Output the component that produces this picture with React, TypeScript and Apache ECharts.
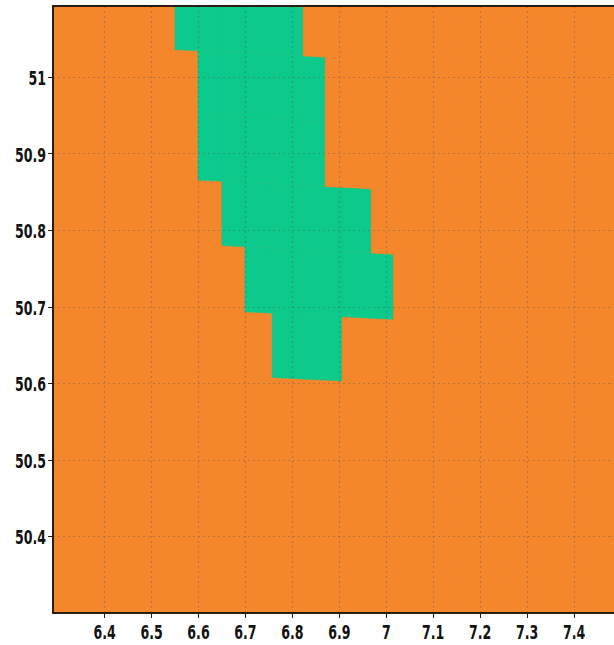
import React, { useEffect, useRef } from "react";
import * as echarts from "echarts";

// Axis extents and tick labels (longitude / latitude)
const xRange = [6.29, 7.5];
const yRange = [50.3, 51.093];
const xTicks = [6.4, 6.5, 6.6, 6.7, 6.8, 6.9, 7.0, 7.1, 7.2, 7.3, 7.4];
const yTicks = [50.4, 50.5, 50.6, 50.7, 50.8, 50.9, 51.0];

// Raster cell edges (longitude west->east, latitude south->north)
const cellLonEdges = [6.55, 6.599, 6.65, 6.699, 6.757, 6.823, 6.87, 6.906, 6.968, 7.014];
const cellLatEdges = [50.607, 50.691, 50.776, 50.86, 50.945, 51.029, 51.113];

// Class of each cell, rows south -> north, 0 = background class, 1 = green class
const cellClass = [
  [0, 0, 0, 0, 1, 1, 1, 0, 0],
  [0, 0, 0, 1, 1, 1, 1, 1, 1],
  [0, 0, 1, 1, 1, 1, 1, 1, 0],
  [0, 1, 1, 1, 1, 1, 0, 0, 0],
  [0, 1, 1, 1, 1, 1, 0, 0, 0],
  [1, 1, 1, 1, 1, 0, 0, 0, 0],
];

const classColors = ["#F4862C", "#0BCA8B"];
const BG = "#F4862C";
const AXIS = "#2b1c10";
const GRIDLINE = "rgba(95,85,85,0.38)";
// raster grid is slightly rotated relative to lon/lat
const SHEAR = 0.0307;
const SHEAR_REF = 6.78;

const fmt = (v: number) => String(Number(v.toFixed(1)));

const FONT_FAMILY = "'DejaVu Sans Condensed', 'DejaVu Sans', sans-serif";
const FONT_SIZE = 14;
const LABEL_SCALE_Y = 1.45;

export default function App() {
  const ref = useRef<HTMLDivElement>(null);
  useEffect(() => {
    if (!ref.current) return;
    const chart = echarts.init(ref.current, undefined, { renderer: "svg" });

    const cells: number[][] = [];
    cellClass.forEach((row, r) => {
      row.forEach((cls, c) => {
        cells.push([cellLonEdges[c], cellLonEdges[c + 1], cellLatEdges[r], cellLatEdges[r + 1], cls]);
      });
    });

    const shear = (lon: number) => -SHEAR * (lon - SHEAR_REF);

    const option: any = {
      animation: false,
      grid: {
        left: 53,
        top: 6,
        width: 568,
        bottom: 32,
        show: true,
        backgroundColor: BG,
        borderWidth: 0,
        containLabel: false,
        outerBoundsMode: "none",
      },
      xAxis: [
        {
          type: "value",
          min: xRange[0],
          max: xRange[1],
          splitNumber: 12,
          z: 10,
          axisLine: { show: true, onZero: false, lineStyle: { color: AXIS, width: 2 } },
          axisTick: { show: true, length: 5, customValues: xTicks, lineStyle: { color: AXIS, width: 1 } },
          axisLabel: { show: false },
          splitLine: { show: false },
        },
        {
          type: "value",
          position: "top",
          min: xRange[0],
          max: xRange[1],
          z: 10,
          axisLine: { show: true, onZero: false, lineStyle: { color: AXIS, width: 2 } },
          axisTick: { show: false },
          axisLabel: { show: false },
          splitLine: { show: false },
        },
      ],
      yAxis: [
        {
          type: "value",
          min: yRange[0],
          max: yRange[1],
          splitNumber: 8,
          z: 10,
          axisLine: { show: true, onZero: false, lineStyle: { color: AXIS, width: 2 } },
          axisTick: { show: true, length: 5, customValues: yTicks, lineStyle: { color: AXIS, width: 1 } },
          axisLabel: { show: false },
          splitLine: { show: false },
        },
      ],
      series: [
        {
          type: "custom",
          xAxisIndex: 0,
          yAxisIndex: 0,
          clip: true,
          z: 2,
          data: cells,
          renderItem: (params: any, api: any) => {
            const w = api.value(0);
            const e = api.value(1);
            const s = api.value(2);
            const n = api.value(3);
            const cls = api.value(4);
            const pts = [
              api.coord([w, s + shear(w)]),
              api.coord([e, s + shear(e)]),
              api.coord([e, n + shear(e)]),
              api.coord([w, n + shear(w)]),
            ];
            const color = classColors[cls];
            return {
              type: "polygon",
              shape: { points: pts },
              style: { fill: color, stroke: color, lineWidth: 0.6 },
            };
          },
          markLine: {
            silent: true,
            symbol: ["none", "none"],
            label: { show: false },
            lineStyle: { color: GRIDLINE, width: 1.2, type: [2, 3] },
            emphasis: { disabled: true },
            data: [
              ...xTicks.map((v) => ({ xAxis: v })),
              ...yTicks.map((v) => ({ yAxis: v })),
            ],
          },
        },
      ],
    };
    chart.setOption(option);

    // Tick labels, placed through the axes' own scales (tall, condensed glyphs)
    const leftPx = chart.convertToPixel({ xAxisIndex: 0 }, xRange[0]) as number;
    const bottomPx = chart.convertToPixel({ yAxisIndex: 0 }, yRange[0]) as number;
    const textStyle = (text: string, align: string) => ({
      text,
      x: 0,
      y: 0,
      fill: "#121212",
      fontFamily: FONT_FAMILY,
      fontWeight: "bold",
      fontSize: FONT_SIZE,
      align,
      verticalAlign: "middle",
      textAlign: align,
      textVerticalAlign: "middle",
    });
    const graphics: any[] = [];
    xTicks.forEach((v) => {
      const px = chart.convertToPixel({ xAxisIndex: 0 }, v) as number;
      graphics.push({
        type: "text",
        x: px,
        y: bottomPx + 19,
        scaleY: LABEL_SCALE_Y,
        z: 20,
        silent: true,
        style: textStyle(fmt(v), "center"),
      });
    });
    yTicks.forEach((v) => {
      const py = chart.convertToPixel({ yAxisIndex: 0 }, v) as number;
      graphics.push({
        type: "text",
        x: leftPx - 7,
        y: py + 1,
        scaleY: LABEL_SCALE_Y,
        z: 20,
        silent: true,
        style: textStyle(fmt(v), "right"),
      });
    });
    chart.setOption({ graphic: graphics });

    return () => chart.dispose();
  }, []);

  return (
    <div
      ref={ref}
      style={{ position: "absolute", left: 0, top: 0, width: 614, height: 645, overflow: "hidden" }}
    />
  );
}
